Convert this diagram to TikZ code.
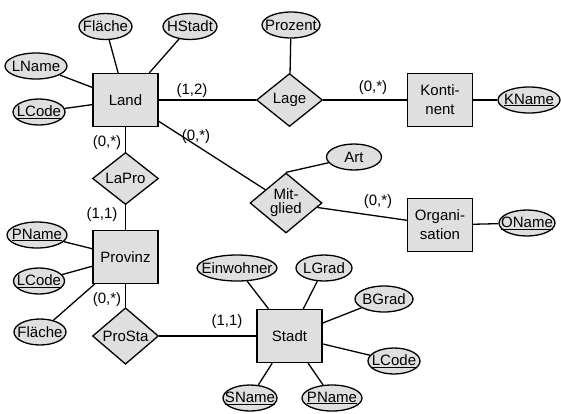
\documentclass[tikz,border=0pt]{standalone}
\usepackage{fontspec}
\setmainfont{Liberation Sans}
\usetikzlibrary{shapes.geometric}

\tikzset{
  entity/.style={draw, fill=gray!25, line width=1.3pt, minimum width=65, minimum height=53, inner sep=0pt, align=center},
  relation/.style={diamond, draw, fill=gray!25, line width=1.3pt, minimum width=66, minimum height=52, inner sep=0pt, align=center},
  attrib/.style={ellipse, draw, fill=gray!25, line width=1.3pt, minimum width=#1, minimum height=26, inner xsep=-12pt, inner ysep=-4pt},
  card/.style={inner sep=0pt},
  link/.style={line width=1.3pt}
}

\begin{document}
\begin{tikzpicture}[x=1pt, y=-1pt, font=\fontsize{15}{19}\selectfont]

            \useasboundingbox (0,0) rectangle (561,413);

            % Entities
            \node[entity] (land) at (125.5,100) {Land};
            \node[entity] (kontinent) at (440,100) {Konti-\\nent};
            \node[entity] (organisation) at (440,225) {Organi-\\sation};
            \node[entity] (provinz) at (125.5,257) {Provinz};
            \node[entity] (stadt) at (289.5,336) {Stadt};

            % Relationships
            \node[relation, minimum height=53] (lage) at (289.5,100) {Lage};
            \node[relation] (lapro) at (125.5,178.5) {LaPro};
            \node[relation, minimum width=72, minimum height=60, font=\fontsize{15}{14}\selectfont] (mitglied) at (286,203) {Mit-\\glied};
            \node[relation] (prosta) at (125.5,336) {ProSta};

            % Attributes of Land
            \node[attrib=53] (flaecheL) at (105.5,26.5) {Fläche};
            \node[attrib=54] (hstadt) at (190,26.5) {HStadt};
            \node[attrib=62] (lname) at (36,66) {LName};
            \node[attrib=52] (lcodeL) at (39,112) {\underline{LCode}};

            % Attributes of the relationships and the other entities
            \node[attrib=58] (prozent) at (291,25) {Prozent};
            \node[attrib=62] (kname) at (529,100) {\underline{KName}};
            \node[attrib=55] (art) at (354,157) {Art};
            \node[attrib=56] (oname) at (527,223) {\underline{OName}};

            % Attributes of Provinz
            \node[attrib=60] (pnameP) at (37,235) {\underline{PName}};
            \node[attrib=51] (lcodeP) at (39,281) {\underline{LCode}};
            \node[attrib=52] (flaecheP) at (40,332) {Fläche};

            % Attributes of Stadt
            \node[attrib=80] (einwohner) at (237,268) {Einwohner};
            \node[attrib=56] (lgrad) at (324,268) {LGrad};
            \node[attrib=58] (bgrad) at (384,299) {BGrad};
            \node[attrib=52] (lcodeS) at (394,361) {\underline{LCode}};
            \node[attrib=54] (sname) at (250,398) {\underline{SName}};
            \node[attrib=60] (pnameS) at (332,398) {\underline{PName}};

            % Connectors between entities and relationships
            \draw[link] (land) -- (lage);
            \draw[link] (lage) -- (kontinent);
            \draw[link] (land) -- (lapro);
            \draw[link] (lapro) -- (provinz);
            \draw[link] (land) -- (mitglied);
            \draw[link] (mitglied) -- (organisation);
            \draw[link] (provinz) -- (prosta);
            \draw[link] (prosta) -- (stadt);

            % Connectors to the attributes
            \draw[link] (land) -- (flaecheL);
            \draw[link] (land) -- (hstadt);
            \draw[link] (land) -- (lname);
            \draw[link] (land) -- (lcodeL);
            \draw[link] (lage) -- (prozent);
            \draw[link] (kontinent) -- (kname);
            \draw[link] (mitglied.north) -- (art);
            \draw[link] (organisation) -- (oname);
            \draw[link] (provinz) -- (pnameP);
            \draw[link] (provinz) -- (lcodeP);
            \draw[link] (provinz) -- (flaecheP);
            \draw[link] (stadt) -- (einwohner);
            \draw[link] (stadt) -- (lgrad);
            \draw[link] (stadt) -- (bgrad);
            \draw[link] (stadt) -- (lcodeS);
            \draw[link] (stadt) -- (sname);
            \draw[link] (stadt) -- (pnameS);

            % Cardinalities
            \node[card] (cardLandLage) at (192,91) {(1,2)};
            \node[card] (cardLageKont) at (373,88) {(0,*)};
            \node[card] (cardLandLaPro) at (107,143) {(0,*)};
            \node[card] (cardLandMit) at (196,137) {(0,*)};
            \node[card] (cardMitOrg) at (378,202) {(0,*)};
            \node[card] (cardLaProProv) at (102,215) {(1,1)};
            \node[card] (cardProvProSta) at (107,300) {(0,*)};
            \node[card] (cardProStaStadt) at (227,322) {(1,1)};
        \end{tikzpicture}
\end{document}
